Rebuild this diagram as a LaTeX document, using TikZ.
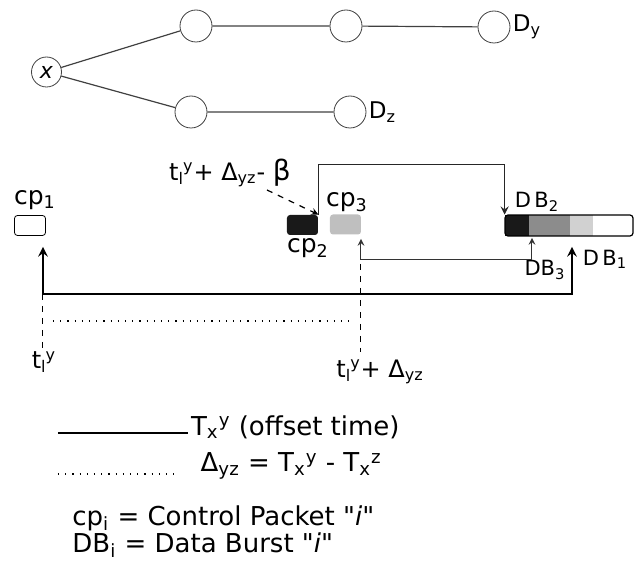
\documentclass[tikz,border=0pt]{standalone}
\usepackage{fontspec}
\setmainfont{DejaVu Sans}
\usepackage{xcolor}
\usepackage{tikz}
\usetikzlibrary{shapes.geometric}
\tikzset{every node/.append style={font=\fontsize{11}{13}\selectfont}}
\newcommand{\tly}{t\textsubscript{l}\kern-0.5pt\textsuperscript{y}}
\newcommand{\txs}[1]{T\textsubscript{x}\textsuperscript{#1}}

\begin{document}
\begin{tikzpicture}[x=0.5pt, y=-0.5pt, >=stealth,
    hop/.style={draw, circle, minimum size=16pt, inner sep=0pt, black!75, text=black},
    link/.style={black!75, line width=0.6pt},
    pkt/.style={rounded corners=1.5pt, minimum width=15.5pt, minimum height=10pt, inner sep=0pt},
    seg/.style={minimum height=10.5pt, inner sep=0pt}]
    \useasboundingbox (0,0) rectangle (634,567);
    \node[hop, minimum size=15pt] (nx) at (46.5,72) {\textit{x}};
    \node[hop] (ny1) at (196,26) {};
    \node[hop] (ny2) at (346,26) {};
    \node[hop] (dy) at (494,27) {};
    \node[hop] (nz1) at (191,112) {};
    \node[hop] (dz) at (350,112) {};
    \node[right, inner sep=1pt, font=\fontsize{11.5}{13}\selectfont] at (dy.east) {D\textsubscript{y}};
    \node[right, inner sep=1pt, font=\fontsize{11.5}{13}\selectfont] at (dz.east) {D\textsubscript{z}};
    \draw[link] (nx) -- (ny1) -- (ny2) -- (dy);
    \draw[link] (nx) -- (nz1) -- (dz);

    \node[pkt, draw, fill=white] (cp1) at (30,225.5) {};
    \node[pkt, fill=black!90] (cp2) at (302.5,225) {};
    \node[pkt, fill=black!25] (cp3) at (345.5,224.5) {};
    \node[font=\fontsize{12.5}{14}\selectfont] at (35,200) {cp\textsubscript{1}};
    \node[font=\fontsize{12.5}{14}\selectfont] at (308,248) {cp\textsubscript{2}};
    \node[font=\fontsize{12.5}{14}\selectfont] at (347,202) {cp\textsubscript{3}};

    \node[seg, fill=black!90, minimum width=12pt] (db2) at (517,225.5) {};
    \node[seg, fill=black!45, minimum width=20.5pt] (db3) at (549.5,225.5) {};
    \node[seg, fill=black!18, minimum width=11.5pt] (db1) at (581.5,225.5) {};
    \draw[rounded corners=1.5pt, line width=0.6pt] (505,215) rectangle (633,236);
    \node[font=\fontsize{10.5}{12}\selectfont] at (537,202) {D\,B\textsubscript{2}};
    \node[font=\fontsize{10.5}{12}\selectfont] at (545,270) {DB\textsubscript{3}};
    \node[font=\fontsize{10.5}{12}\selectfont] at (605,259) {D\,B\textsubscript{1}};

    \coordinate (tl) at (43,294);
    \coordinate (tr) at (572,294);
    \coordinate (ml) at (361,260);
    \coordinate (mr) at (532,260);
    \draw[<->, line width=1.1pt] (tl |- 0,247) -- (tl) -- (tr) -- (tr |- 0,247);
    \draw[<->, line width=0.5pt, black!80] (ml |- 0,239) -- (ml) -- (mr) -- (mr |- 0,238);
    \draw[->, line width=0.8pt, black!85] (cp2.north east) -- ++(0,-50) -| (db2.north west);

    \node[font=\fontsize{12}{14}\selectfont] (beta) at (230,173) {\tly+ Δ\textsubscript{yz}- \fontsize{14}{16}\selectfont β};
    \draw[->, dashed, line width=0.6pt] (267,190) -- (cp2.north east);

    \draw[dash pattern=on 3pt off 3pt, line width=0.5pt] (tl) -- (43,352);
    \draw[dash pattern=on 3pt off 3pt, line width=0.5pt] (361,264) -- (361,352);
    \draw[dash pattern=on 0.6pt off 3pt, line width=0.7pt] (53,321) -- (355,321);
    \node[font=\fontsize{12}{14}\selectfont] (t0) at (44,362) {\tly};
    \node[right, inner sep=0pt, font=\fontsize{12}{14}\selectfont] (t1) at (336,372) {\tly+ Δ\textsubscript{yz}};

    \draw[line width=1.1pt] (58,433) -- (188,433) node[right, inner sep=1pt, yshift=3pt, font=\fontsize{13}{15}\selectfont] {\txs{y} (offset time)};
    \draw[dash pattern=on 0.6pt off 3pt, line width=0.7pt] (58,474) -- (180,474) node[right, inner sep=0pt, xshift=10pt, yshift=4pt, font=\fontsize{13}{15}\selectfont] {Δ\textsubscript{yz} = \txs{y} - \txs{z}};
    \node[right, inner sep=0pt, font=\fontsize{13}{15}\selectfont] at (72,518) {cp\textsubscript{i} = Control Packet \textquotedbl\textit{i}\textquotedbl};
    \node[right, inner sep=0pt, font=\fontsize{13}{15}\selectfont] at (72,545) {DB\textsubscript{i} = Data Burst \textquotedbl\textit{i}\textquotedbl};
\end{tikzpicture}
\end{document}
